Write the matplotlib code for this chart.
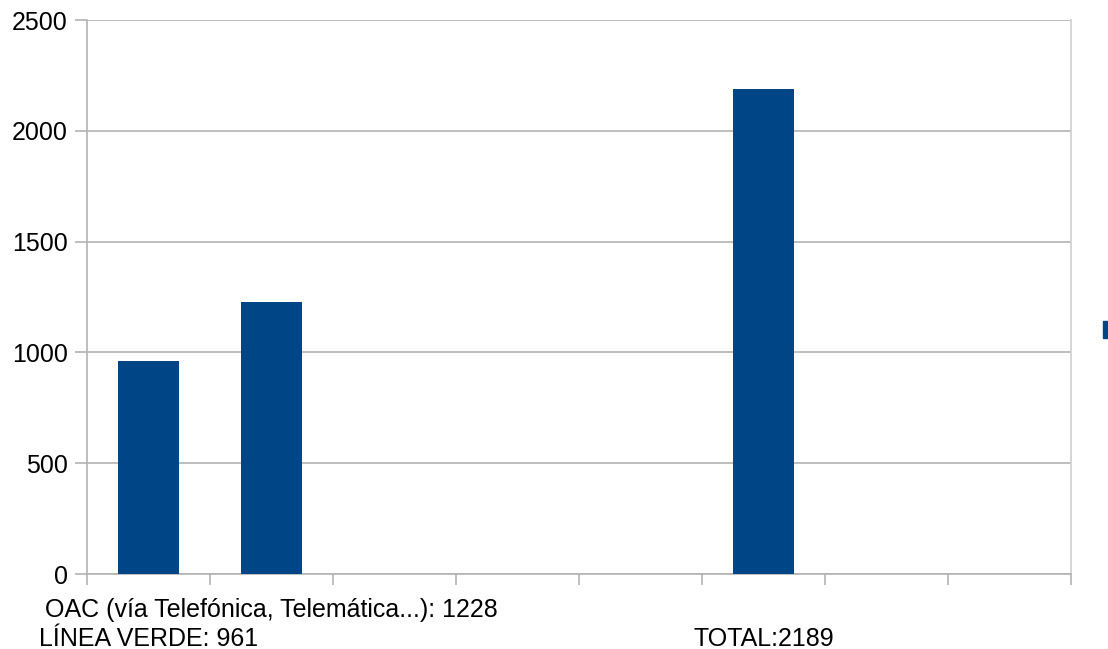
import matplotlib.pyplot as plt
import matplotlib.patches as patches
from matplotlib import transforms

# categories (8 slots, most empty) and values
categories = ['LÍNEA VERDE: 961', 'OAC (vía Telefónica, Telemática...): 1228',
              '', '', '', 'TOTAL:2189', '', '']
values = [961, 1228, 0, 0, 0, 2189, 0, 0]
yticks = [0, 500, 1000, 1500, 2000, 2500]
# which row each label sits in (0 = upper, 1 = lower)
label_rows = [1, 0, 0, 0, 0, 1, 0, 0]

bar_color = '#004586'
grid_color = '#b3b3b3'

plt.rcParams['font.family'] = ['Liberation Sans', 'DejaVu Sans']

fig = plt.figure(figsize=(11.08, 6.49), dpi=100)
ax = fig.add_axes([87 / 1108, 75 / 649, (1071 - 87) / 1108, (574 - 20) / 649])

x = list(range(len(categories)))
ax.bar(x, values, width=0.5, color=bar_color, zorder=3)

ax.set_xlim(-0.5, len(categories) - 0.5)
ax.set_ylim(0, 2500)
ax.set_yticks(yticks)
ax.set_yticklabels([str(v) for v in yticks], fontsize=18)
ax.yaxis.grid(True, color=grid_color, linewidth=1.2, zorder=0)
ax.tick_params(axis='y', length=9, width=1.2, color=grid_color, pad=5)

# tick marks at category boundaries, no labels there
ax.set_xticks([i - 0.5 for i in range(len(categories) + 1)])
ax.set_xticklabels([])
ax.tick_params(axis='x', length=8, width=1.2, color=grid_color)

for sp in ['left', 'bottom', 'right']:
    ax.spines[sp].set_color(grid_color)
    ax.spines[sp].set_linewidth(1.2)
ax.spines['right'].set_color('#cfcfcf')
ax.spines['top'].set_visible(False)

# staggered category labels below the axis
trans = transforms.blended_transform_factory(ax.transData, fig.transFigure)
for i, lab in enumerate(categories):
    if not lab:
        continue
    ypix = 610 if label_rows[i] == 0 else 639
    ax.text(i, (649 - ypix) / 649, lab, fontsize=18, ha='center', va='center',
            transform=trans)

# legend marker, cut off at the right edge
fig.patches.append(patches.Rectangle((1103 / 1108, (649 - 338) / 649), 10 / 1108, 17 / 649,
                                     transform=fig.transFigure, color=bar_color, figure=fig))

fig.savefig('out.png', dpi=100)
